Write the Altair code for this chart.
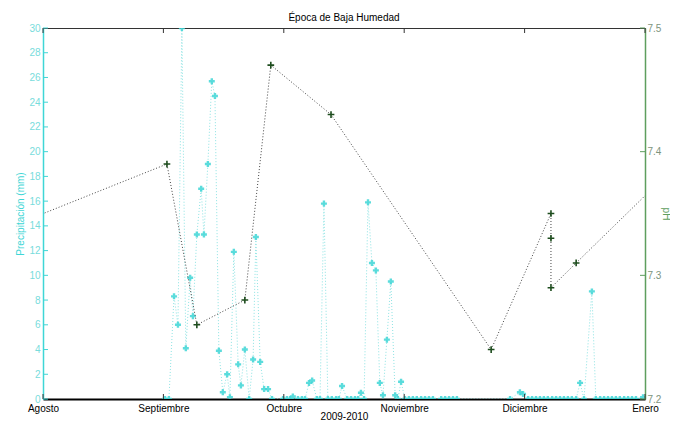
import altair as alt
import pandas as pd

# ---------------- data ----------------
chart_title = "Época de Baja Humedad"
x_title = "2009-2010"
month_labels = ["Agosto", "Septiembre", "Octubre", "Noviembre", "Diciembre", "Enero"]
month_ticks = [0, 30.6, 61.2, 91.8, 122.4, 153]
mm_ticks = [0, 2, 4, 6, 8, 10, 12, 14, 16, 18, 20, 22, 24, 26, 28, 30]
ph_ticks = [7.2, 7.3, 7.4, 7.5]

# days counted from 1 August 2009
precip_day = [
    31.0, 32.0, 33.3, 34.3, 35.3, 36.3, 37.4, 38.1, 39.1, 40.2, 40.9, 41.9, 42.9, 43.7, 44.7,
    45.7, 46.8, 47.5, 48.5, 49.6, 50.3, 51.3, 52.4, 53.4, 54.1, 55.2, 56.2, 57.2, 58.2,
    61.0, 62.0, 62.8, 63.5, 64.8, 65.8, 66.6, 67.6, 68.4, 69.6, 70.4, 71.4, 72.4, 73.4, 74.5,
    75.2, 76.0, 77.3, 78.3, 79.3, 80.1, 80.8, 81.6, 82.6, 83.6, 84.6, 85.6, 86.4, 87.4, 88.4,
    89.5, 90.2, 91.0,
    92.0, 93.0, 94.0, 95.0, 96.1, 97.1, 98.1, 99.1, 101.2, 102.2, 103.2, 104.2, 105.2,
    118.7, 121.2, 122.0, 123.3, 124.3, 125.3, 126.3, 127.3, 128.3, 129.4, 130.4, 131.4, 132.4,
    133.4, 134.4, 135.5, 136.5, 137.5, 139.5, 140.5, 141.6, 142.6, 143.6, 144.6, 145.6, 146.6,
    147.7, 148.7, 149.7, 150.7, 152.5,
]
precip_mm = [
    0, 0, 8.3, 6.0, 30.0, 4.1, 9.8, 6.7, 13.3, 17.0, 13.3, 19.0, 25.7, 24.5, 3.9,
    0.55, 2.0, 0.15, 11.9, 2.8, 1.1, 4.0, 0, 3.2, 13.1, 3.0, 0.8, 0.8, 0,
    0, 0, 0, 0.2, 0, 0, 0, 1.3, 1.5, 0, 0, 15.8, 0, 0, 0,
    0, 1.05, 0, 0, 0, 0, 0.5, 0, 15.9, 11.0, 10.4, 1.3, 0.3, 4.8, 9.5,
    0.3, 0, 1.4,
    0, 0, 0, 0, 0, 0, 0, 0, 0, 0, 0, 0, 0,
    0, 0.55, 0.4, 0, 0, 0, 0, 0, 0, 0, 0, 0, 0,
    0, 0, 0, 1.3, 0, 8.7, 0, 0, 0, 0, 0, 0, 0,
    0, 0, 0, 0, 0.15,
]

ph_day = [-10.9, 31.5, 39.1, 51.3, 57.9, 73.2, 113.9, 129.1, 129.1, 129.1, 135.5, 161.9]
ph_val = [7.336, 7.39, 7.26, 7.28, 7.47, 7.43, 7.24, 7.35, 7.33, 7.29, 7.31, 7.392]

# ---------------- tables ----------------
precip_df = pd.DataFrame({"day": precip_day, "mm": precip_mm})
ph_df = pd.DataFrame({"day": ph_day, "ph": ph_val, "seq": list(range(len(ph_day)))})
month_df = pd.DataFrame({"day": month_ticks})
mm_df = pd.DataFrame({"mm": mm_ticks})
phtick_df = pd.DataFrame({"ph": ph_ticks})

W, H = 602, 371
FONT = "Liberation Sans"
CYAN = "#3fd6d6"
CYAN_TXT = "#78dcdc"
GREEN = "#5e9e5e"

label_expr = "[" + ",".join("'%s'" % m for m in month_labels) + "][round(datum.value/30.6)]"

x_enc = alt.X(
    "day:Q",
    scale=alt.Scale(domain=[0, 153], nice=False, zero=False),
    axis=alt.Axis(
        values=month_ticks, labelExpr=label_expr, ticks=False, grid=False,
        domainColor="black", domainWidth=2, labelColor="black", labelFont=FONT,
        labelFontSize=10, labelPadding=4, labelOverlap=False, labelFlush=False,
        title=x_title, titleFont=FONT, titleFontSize=10, titleFontWeight="normal",
        titleColor="black", titleY=20, titleBaseline="alphabetic",
    ),
)

y_mm = alt.Y(
    "mm:Q",
    scale=alt.Scale(domain=[0, 30], nice=False, zero=False),
    axis=alt.Axis(
        orient="left", values=mm_ticks, ticks=False, grid=False,
        domainColor=CYAN, domainWidth=1.5, labelColor=CYAN_TXT, labelFont=FONT,
        labelFontSize=10, labelPadding=3,
        title="Precipitación (mm)", titleColor=CYAN, titleFont=FONT, titleFontSize=10,
        titleFontWeight="normal", titlePadding=3,
    ),
)

y_ph = alt.Y(
    "ph:Q",
    scale=alt.Scale(domain=[7.2, 7.5], nice=False, zero=False),
    axis=alt.Axis(
        orient="right", values=ph_ticks, format=".1f", ticks=False, grid=False,
        domainColor=GREEN, domainWidth=1.5, labelColor="#7d947d", labelFont=FONT,
        labelFontSize=10, labelPadding=2,
        title="pH", titleColor=GREEN, titleFont=FONT, titleFontSize=10,
        titleFontWeight="normal", titleX=20, titleBaseline="middle",
    ),
)

precip_line = alt.Chart(precip_df).mark_line(
    color="#8ee4e4", strokeDash=[1, 2], strokeWidth=1, clip=True
).encode(x=x_enc, y=y_mm)

precip_pts = alt.Chart(precip_df).mark_point(
    shape="cross", filled=True, size=36, color=CYAN, opacity=0.85, clip=True
).encode(x=x_enc, y=y_mm)

left_ticks = alt.Chart(mm_df).mark_rule(color=CYAN, strokeWidth=1).encode(
    y=y_mm, x=alt.value(0), x2=alt.value(5)
)

top_ticks = alt.Chart(month_df).mark_rule(color="#333", strokeWidth=1).encode(
    x=x_enc, y=alt.value(0), y2=alt.value(5)
)
bottom_ticks = alt.Chart(month_df).mark_rule(color="#333", strokeWidth=1).encode(
    x=x_enc, y=alt.value(H - 5), y2=alt.value(H)
)

ph_line = alt.Chart(ph_df).mark_line(
    color="#444444", strokeDash=[1, 2], strokeWidth=1, clip=True
).encode(x=x_enc, y=y_ph, order="seq:Q")

ph_pts = alt.Chart(ph_df).mark_point(
    shape="M-1,0L1,0M0,-1L0,1", filled=False, size=45, strokeWidth=1.6,
    color="#1e4d1e", opacity=1, clip=True
).encode(x=x_enc, y=y_ph)

right_ticks = alt.Chart(phtick_df).mark_rule(color=GREEN, strokeWidth=1).encode(
    y=y_ph, x=alt.value(W - 5), x2=alt.value(W)
)

precip_layer = alt.layer(precip_line, precip_pts, left_ticks, top_ticks, bottom_ticks)
ph_layer = alt.layer(ph_line, ph_pts, right_ticks)

chart = (
    alt.layer(precip_layer, ph_layer)
    .resolve_scale(y="independent")
    .properties(
        width=W, height=H,
        autosize=alt.AutoSizeParams(type="none"),
        padding={"left": 35, "top": 20, "right": 25, "bottom": 21},
        title=alt.TitleParams(
            text=chart_title, font=FONT, fontSize=10, fontWeight="normal",
            color="black", anchor="middle", offset=0,
        ),
        background="white",
    )
    .configure_view(stroke="#333333", strokeWidth=1)
)

chart.save("out.html", embed_options={"renderer": "svg", "actions": False})
